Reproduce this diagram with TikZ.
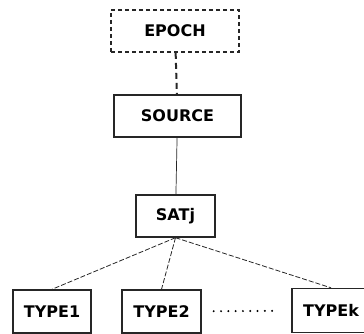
\documentclass[tikz,border=0pt]{standalone}
\usepackage{fontspec}
\setmainfont{DejaVu Sans}
\usepackage{tikz}
\usetikzlibrary{positioning}

\begin{document}
\begin{tikzpicture}[x=1pt, y=-1pt,
        box/.style={draw=black!85, line width=1.4pt, inner sep=0pt,
            minimum width=79pt, minimum height=42pt,
            font=\fontsize{16}{18}\selectfont\bfseries},
        link/.style={draw=black!85, line width=0.7pt},
        typelink/.style={draw=black!85, line width=0.8pt, dash pattern=on 5pt off 2pt}]
    \useasboundingbox (0,0) rectangle (364,334);
    \clip (0,0) rectangle (364,334);

    % hierarchy
    \node[box, dash pattern=on 4pt off 3pt, line width=1.6pt,
        minimum width=128pt] (epoch) at (175,31) {EPOCH};
    \node[box, minimum width=127pt] (source) at (177.5,116) {SOURCE};
    \node[box] (satj) at (175.5,216) {SATj};

    % leaf types
    \node[box, minimum width=78pt, minimum height=43pt] (type1) at (52,311.5) {TYPE1};
    \node[box, minimum height=43pt] (type2) at (161.5,311.5) {TYPE2};
    \node[box, minimum width=78pt, minimum height=44pt] (typek) at (331,310.5) {TYPEk};

    \draw[link, line width=2pt, dash pattern=on 6pt off 4pt] (epoch) -- (source);
    \draw[link] (source) -- (satj);
    \draw[typelink] (satj.south) -- (type1.north);
    \draw[typelink] (satj.south) -- (type2.north);
    \draw[typelink] (satj.south) -- (typek.north);

    % dots between the types
    \draw[line width=2.2pt, line cap=round, dash pattern=on 0pt off 7.3pt,
        shorten <=12pt, shorten >=13pt] (type2) -- (typek);
\end{tikzpicture}
\end{document}
